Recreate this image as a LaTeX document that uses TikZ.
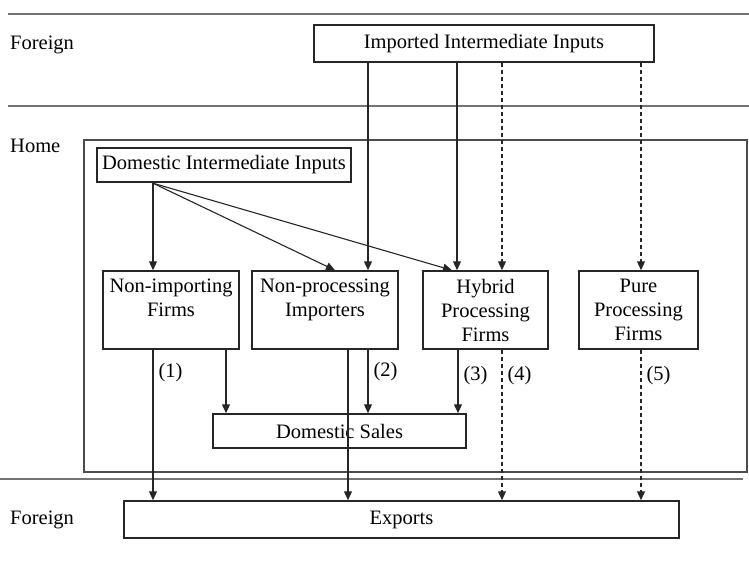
\documentclass[tikz,border=0pt]{standalone}
\usepackage{fontspec}
\setmainfont{Liberation Serif}
\usetikzlibrary{arrows.meta}

\begin{document}
\begin{tikzpicture}
			[x=1pt,y=-1pt,
			%Styles
			box/.style={draw=black!85,line width=1.5pt,align=center,inner sep=0pt,
				font=\fontsize{20.5}{24}\selectfont},
			flow/.style={draw=black!85,line width=1.1pt,-{Triangle[length=9pt,width=8pt]}},
			dflow/.style={flow,dash pattern=on 4.5pt off 2.5pt},
			border/.style={draw=black!55,line width=1.8pt},
			side text/.style={anchor=west,inner sep=0pt,font=\fontsize{20.5}{24}\selectfont},
			number/.style={right,inner sep=5pt,font=\fontsize{20.5}{24}\selectfont}
			]
			\useasboundingbox (0,0) rectangle (749,562);
			
			%Regions
			\draw[border] (8,14) -- (749,14);
			\draw[border,line width=1.4pt] (8,106) -- (749,106);
			\draw[border,line width=1.4pt] (0,479) -- (743,479);
			\draw[draw=black!70,line width=1.3pt] (84,140) rectangle (747,472);
			
			\node[side text] (foreign top) at (10,45) {Foreign};
			\node[side text] (home) at (10,146) {Home};
			\node[side text] (foreign bottom) at (10,520) {Foreign};
			
			%Boxes
			\node[box,minimum width=340pt,minimum height=37pt] (imp) at (484,43.5) {Imported Intermediate Inputs};
			\node[box,line width=2.4pt,minimum width=254pt,minimum height=34pt] (dii) at (224,165) {Domestic Intermediate Inputs};
			\node[box,minimum width=136pt,minimum height=78pt] (nif) at (171,310) {Non-importing\\Firms\\~};
			\node[box,minimum width=146pt,minimum height=78pt] (npi) at (325,310) {Non-processing\\Importers\\~};
			\node[box,minimum width=125pt,minimum height=78pt] (hpf) at (485.5,310) {Hybrid\\Processing\\Firms};
			\node[box,minimum width=119pt,minimum height=78pt] (ppf) at (638.5,310) {Pure\\Processing\\Firms};
			\node[box,minimum width=253pt,minimum height=34pt] (dsl) at (339.5,431) {Domestic Sales};
			\node[box,minimum width=555pt,minimum height=37pt] (exp) at (401.5,519.5) {Exports};
			
			%Inputs
			\coordinate (dsrc) at (dii.south -| 153,0);
			\draw[flow] (dsrc) -- (nif.north -| dsrc);
			\draw[flow] (dsrc) -- (npi.north -| 335,0);
			\draw[flow] (dsrc) -- (hpf.north -| 452,0);
			
			\draw[flow] (imp.south -| 368,0) -- (npi.north -| 368,0);
			\draw[flow] (imp.south -| 457,0) -- (hpf.north -| 457,0);
			\draw[dflow] (imp.south -| 502,0) -- (hpf.north -| 502,0);
			\draw[dflow] (imp.south -| 641,0) -- (ppf.north -| 641,0);
			
			%Outputs
			\draw[flow] (nif.south -| 153,0) -- node[number,pos=.15] {(1)} (exp.north -| 153,0);
			\draw[flow] (nif.south -| 226,0) -- (dsl.north -| 226,0);
			\draw[flow] (npi.south -| 348,0) -- (exp.north -| 348,0);
			\draw[flow] (npi.south -| 368,0) -- node[number,pos=.35] {(2)} (dsl.north -| 368,0);
			\draw[flow] (hpf.south -| 458,0) -- node[number,pos=.4] {(3)} (dsl.north -| 458,0);
			\draw[dflow] (hpf.south -| 502,0) -- node[number,pos=.17] {(4)} (exp.north -| 502,0);
			\draw[dflow] (ppf.south -| 641,0) -- node[number,pos=.17] {(5)} (exp.north -| 641,0);
		\end{tikzpicture}
\end{document}
